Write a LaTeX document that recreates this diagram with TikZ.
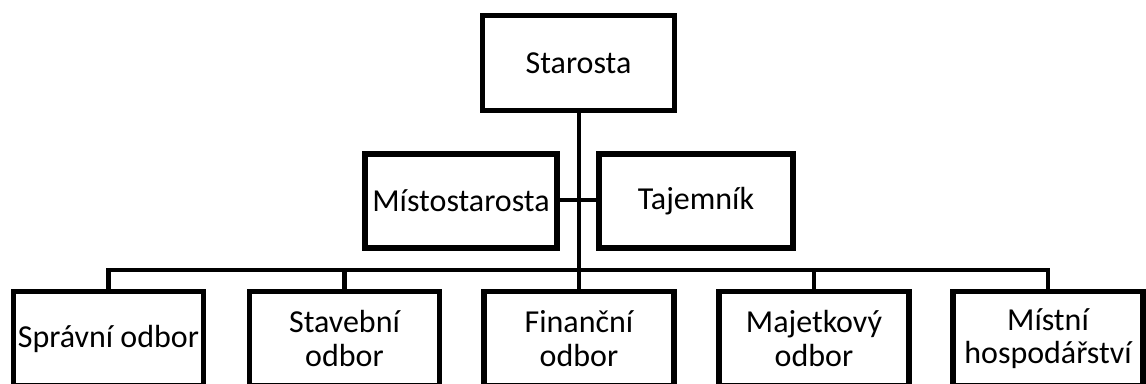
\documentclass[tikz,border=0pt]{standalone}
\usepackage{fontspec}
\setmainfont{Carlito}
\begin{document}
\begin{tikzpicture}[x=1pt,y=-1pt,
  box/.style={draw=black, line width=5.5pt, rectangle, inner sep=0pt,
    minimum width=190pt, minimum height=94pt, align=center,
    font=\fontsize{32}{33.5}\selectfont},
  link/.style={draw=black, line width=4.5pt}]
  \useasboundingbox (0,0) rectangle (1146,383);
  % top
  \node[box, minimum width=192pt, minimum height=95pt] (star) at (578.5,63) {Starosta};
  % deputies
  \node[box, minimum width=192pt] (mist) at (461,201) {Místostarosta};
  \node[box, minimum width=194pt] (taj) at (696,201) {Tajemník};
  % departments
  \node[box] (sprav) at (108.5,338.5) {Správní odbor};
  \node[box] (stav) at (344.5,338.5) {Stavební\\odbor};
  \node[box] (fin) at (579,338.5) {Finanční\\odbor};
  \node[box] (maj) at (814,338.5) {Majetkový\\odbor};
  \node[box] (mh) at (1048,338.5) {Místní\\hospodářství};
  % connectors
  \coordinate (bus) at (579,270);
  \draw[link] (mist.east |- 0,200) -- (taj.west |- 0,200);
  \draw[link] (star.south -| bus) -- (bus);
  \draw[link] (sprav.north) |- (bus);
  \draw[link] (mh.north) |- (bus);
  \draw[link] (stav.north) -- (stav.north |- bus);
  \draw[link] (fin.north) -- (fin.north |- bus);
  \draw[link] (maj.north) -- (maj.north |- bus);
\end{tikzpicture}
\end{document}
